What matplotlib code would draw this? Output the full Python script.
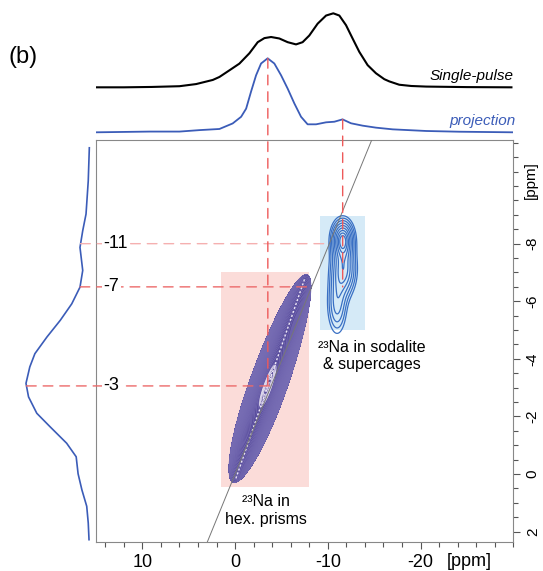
import matplotlib
matplotlib.use('Agg')
import matplotlib.pyplot as plt
import numpy as np
from matplotlib.patches import Rectangle, ConnectionPatch
from matplotlib.ticker import MultipleLocator, FixedLocator

plt.rcParams['font.family'] = ['Liberation Sans', 'DejaVu Sans']
plt.rcParams['axes.unicode_minus'] = False

# top trace: single-pulse spectrum (ppm, relative intensity)
sp_ppm = [15.0, 12.0, 9.0, 6.0, 4.2, 2.4, 1.69, 0.61, -0.46, -1.54, -2.44, -3.16, -3.88,
          -4.77, -5.67, -6.57, -7.28, -8.0, -8.9, -9.81, -10.59, -11.24, -11.96,
          -12.67, -13.39, -14.29, -15.19, -16.09, -16.63, -17.7, -19.0, -20.6,
          -25.0, -29.8]
sp_int = [0.0, 0.0, 0.005, 0.015, 0.044, 0.10, 0.14, 0.23, 0.32, 0.46, 0.61, 0.665, 0.68,
          0.66, 0.61, 0.58, 0.61, 0.70, 0.86, 0.97, 1.0, 0.97, 0.84,
          0.66, 0.48, 0.30, 0.19, 0.11, 0.08, 0.035, 0.018, 0.01,
          0.003, 0.0]

# top trace: projection of the 2D spectrum
pr_ppm = [15.0, 9.2, 6.0, 3.8, 2.4, 1.69, 0.26, -0.65, -1.19, -1.72, -2.26, -2.80, -3.51,
          -4.23, -4.96, -5.67, -6.39, -7.11, -7.82, -8.73, -9.81, -10.70, -11.59,
          -12.5, -13.75, -15.19, -17.0, -20.6, -24.2, -30.0]
pr_int = [0.0, 0.01, 0.01, 0.03, 0.04, 0.045, 0.12, 0.21, 0.32, 0.55, 0.77, 0.93, 1.0,
          0.93, 0.77, 0.59, 0.39, 0.21, 0.108, 0.108, 0.135, 0.143, 0.175,
          0.122, 0.09, 0.063, 0.04, 0.018, 0.008, 0.0]

# left trace: projection on the isotropic axis
lp_ppm = [-11.33, -10.18, -9.03, -8.45, -7.87, -7.07, -6.49, -5.91, -5.34, -4.76,
          -4.18, -3.72, -3.15, -2.68, -2.11, -1.64, -1.07, -0.60, -0.01, 0.55,
          1.12, 1.70, 2.28]
lp_int = [0.003, 0.02, 0.055, 0.107, 0.15, 0.107, 0.15, 0.28, 0.46, 0.67,
          0.86, 0.94, 1.0, 0.96, 0.83, 0.62, 0.36, 0.21, 0.18, 0.12,
          0.044, 0.02, 0.008]

# 2D peaks
hex_ridge = (-0.25, 1.07)          # F2 = a + b * F1
hex_center = -3.0
hex_sigma = (1.3, 1.55, 0.85)      # below, above, across
hex_span = (0.15, -6.8)
sod_x = [-11.6, -11.7, -11.0]
sod_y = [-8.15, -7.1, -5.9]
sod_sx = [0.7, 0.8, 0.65]
sod_sy = [0.4, 0.55, 0.65]
sod_amp = [1.0, 0.7, 0.42]

hex_box = (1.5, -8.0, -7.0, 0.45)
sod_box = (-9.2, -14.0, -8.95, -5.0)
diag_slope = 1.27
guide_y = [-8.0, -6.5, -3.06]
guide_txt = ['-11', '-7', '-3']
guide_x = [-3.53, -11.6]
guide_xend = [-3.06, -6.5]

xticks = [10, 0, -10, -20]
yticks = [-8, -6, -4, -2, 0, 2]
xlim = (15, -30)
ylim = (2.35, -11.6)

fig = plt.figure(figsize=(5.43, 5.71), dpi=100)
axl = fig.add_axes([0.0, 0.0513, 0.1768, 0.7035])
axt = fig.add_axes([0.1768, 0.7548, 0.7685, 0.2452])
ax = fig.add_axes([0.1768, 0.0513, 0.7685, 0.7035])

blue = '#3b5cb8'
axt.plot(sp_ppm, np.array(sp_int) + 0.608, color='black', lw=1.5)
axt.plot(pr_ppm, pr_int, color=blue, lw=1.3)
axt.set_xlim(*xlim)
axt.set_ylim(-0.104, 1.788)
axt.axis('off')
axt.text(-30, 0.66, 'Single-pulse', style='italic', fontsize=11, ha='right', va='bottom')
axt.text(-30.2, 0.06, 'projection', style='italic', fontsize=11, ha='right',
         va='bottom', color=blue)

axl.plot(lp_int, lp_ppm, color=blue, lw=1.2)
axl.set_xlim(1.409, -0.102)
axl.set_ylim(*ylim)
axl.axis('off')

# boxes
ax.add_patch(Rectangle((hex_box[1], hex_box[2]), hex_box[0] - hex_box[1],
                       hex_box[3] - hex_box[2], color='#fbdcd9', lw=0, zorder=0))
ax.add_patch(Rectangle((sod_box[1], sod_box[2]), sod_box[0] - sod_box[1],
                       sod_box[3] - sod_box[2], color='#d5eaf7', lw=0, zorder=0))

# contour surfaces
gx = np.linspace(3, -17, 500)
gy = np.linspace(2.3, -11.5, 500)
X, Y = np.meshgrid(gx, gy)
a, b = hex_ridge
W = X - (a + b * Y)
sy = np.where(Y > hex_center, hex_sigma[0], hex_sigma[1])
Zh = np.exp(-0.5 * ((Y - hex_center) / sy) ** 2) * np.exp(-0.5 * (W / hex_sigma[2]) ** 2)
ax.contourf(X, Y, Zh, levels=[0.04, 2], colors='#5b4f9e', zorder=2)
ax.contour(X, Y, Zh, levels=np.geomspace(0.04, 0.85, 34), colors='#7a70b6',
           linewidths=0.4, zorder=2)
ax.contour(X, Y, Zh, levels=np.geomspace(0.88, 0.995, 5), colors='#ece6f4',
           linewidths=0.6, zorder=2)
ry = np.array(hex_span)
ax.plot(a + b * ry, ry, color='#eee8f6', lw=1.0, ls=(0, (1.5, 1.5)), zorder=2)

Zs = np.zeros_like(X)
for cx, cy, sx_, sy_, am in zip(sod_x, sod_y, sod_sx, sod_sy, sod_amp):
    Zs += am * np.exp(-0.5 * ((X - cx) / sx_) ** 2 - 0.5 * ((Y - cy) / sy_) ** 2)
ring_r = np.linspace(2.1, 0.45, 9)
ax.contour(X, Y, Zs, levels=Zs.max() * np.exp(-0.5 * ring_r ** 2), colors='#3a70c4',
           linewidths=0.9, zorder=2)

# diagonal
dy = np.array(ylim)
ax.plot(diag_slope * dy, dy, color='#777777', lw=0.7, zorder=3)

# guide lines
red = '#ec6a6a'
dash = (0, (7, 5))
for yv, col in zip(guide_y, ['#f5b0b0', red, red]):
    xa = np.interp(yv, lp_ppm, lp_int)
    con = ConnectionPatch(xyA=(xa, yv), coordsA=axl.transData,
                          xyB=(diag_slope * yv, yv), coordsB=ax.transData,
                          color=col, lw=1.0, linestyle=dash, zorder=4)
    con.set_clip_on(False)
    ax.add_artist(con)
for xv, ye in zip(guide_x, guide_xend):
    ya = np.interp(-xv, -np.array(pr_ppm), pr_int)
    con = ConnectionPatch(xyA=(xv, ya), coordsA=axt.transData,
                          xyB=(xv, ye), coordsB=ax.transData,
                          color='#ee5a5a', lw=1.0, linestyle=dash, zorder=4)
    con.set_clip_on(False)
    ax.add_artist(con)

for yv, t in zip(guide_y, guide_txt):
    ax.text(14.2, yv, t, fontsize=13, ha='left', va='center', zorder=6,
            bbox=dict(facecolor='white', edgecolor='none', pad=1))

ax.text(-14.7, -4.1, '²³Na in sodalite\n& supercages', fontsize=11.5,
        ha='center', va='center', zorder=6)
ax.text(-3.3, 1.27, '²³Na in\nhex. prisms', fontsize=11.5, ha='center',
        va='center', zorder=6)

ax.set_xlim(*xlim)
ax.set_ylim(*ylim)
ax.xaxis.set_major_locator(FixedLocator(xticks))
ax.xaxis.set_minor_locator(MultipleLocator(2))
ax.yaxis.set_major_locator(FixedLocator(yticks))
ax.yaxis.set_minor_locator(MultipleLocator(0.5))
ax.yaxis.tick_right()
for s in ax.spines.values():
    s.set_color('#888888')
    s.set_linewidth(0.8)
ax.tick_params(axis='both', which='both', direction='out', color='#555555')
ax.tick_params(axis='both', which='major', length=5, width=0.8)
ax.tick_params(axis='both', which='minor', length=3.5, width=0.8)
ax.tick_params(axis='x', labelsize=13, pad=4)
ax.tick_params(axis='y', labelsize=11, pad=4)
plt.setp(ax.get_yticklabels(), rotation=90, va='center', ha='left')
ax.text(-25.3, -0.027, '[ppm]', transform=ax.get_xaxis_transform(), fontsize=13,
        ha='center', va='top')
ax.text(1.026, -10.2, '[ppm]', transform=ax.get_yaxis_transform(), fontsize=11,
        rotation=90, ha='left', va='center')

fig.text(0.015, 0.9, '(b)', fontsize=17, ha='left', va='center')

fig.savefig('out.png', dpi=100)
